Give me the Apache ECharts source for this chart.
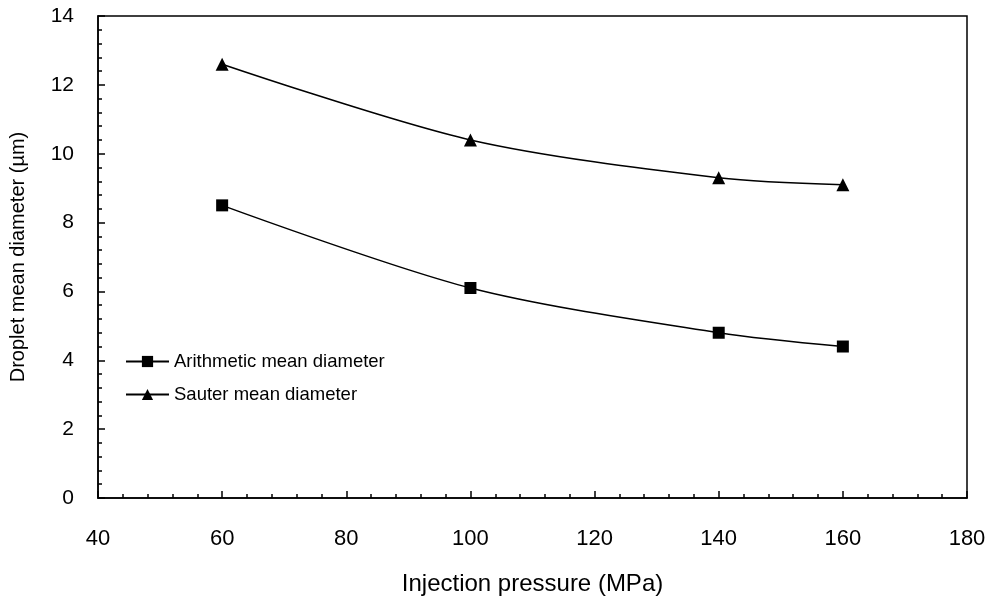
<!DOCTYPE html>
<html>
<head>
<meta charset="utf-8">
<script src="https://cdn.jsdelivr.net/npm/echarts@6/dist/echarts.min.js"></script>
<style>
  html, body { margin: 0; padding: 0; background: #fff; }
  #chart { width: 990px; height: 601px; }
</style>
</head>
<body>
<div id="chart"></div>
<script>
// injection pressure (MPa)
const pressure = [60, 100, 140, 160]
// droplet mean diameters (um)
const arithmeticMean = [8.5, 6.1, 4.8, 4.4]
const sauterMean = [12.6, 10.4, 9.3, 9.1]

const chart = echarts.init(document.getElementById('chart'))

const font = 'Liberation Sans, Arial, sans-serif'

const toPairs = (xs, ys) => xs.map((x, i) => [x, ys[i]])

const axisCommon = {
  axisLine: { show: true, lineStyle: { color: '#000', width: 1.5 } },
  axisTick: { show: true, inside: true, length: 7, lineStyle: { color: '#000', width: 1.5 } },
  minorTick: { show: true, splitNumber: 5, length: 4, lineStyle: { color: '#000', width: 1.5 } },
  splitLine: { show: false }
}

let option = {
  animation: false,
  backgroundColor: '#fff',
  grid: {
    left: 98,
    right: 23,
    top: 16,
    bottom: 103,
    show: true,
    borderColor: '#000',
    borderWidth: 1.5
  },
  legend: {
    orient: 'vertical',
    left: 120,
    top: 347,
    itemWidth: 43,
    itemHeight: 14,
    itemGap: 14,
    textStyle: { color: '#000', fontSize: 18.5, fontFamily: font },
    data: ['Arithmetic mean diameter', 'Sauter mean diameter']
  },
  xAxis: Object.assign({}, axisCommon, {
    type: 'value',
    min: 40,
    max: 180,
    interval: 20,
    name: 'Injection pressure (MPa)',
    nameLocation: 'middle',
    nameGap: 74,
    nameTextStyle: { color: '#000', fontSize: 24, fontFamily: font },
    axisLabel: { color: '#000', fontSize: 22, fontFamily: font, margin: 30 }
  }),
  yAxis: Object.assign({}, axisCommon, {
    type: 'value',
    min: 0,
    max: 14,
    interval: 2,
    name: 'Droplet mean diameter (\u00b5m)',
    nameLocation: 'middle',
    nameGap: 70,
    nameTextStyle: { color: '#000', fontSize: 20, fontFamily: font },
    axisLabel: { color: '#000', fontSize: 21, fontFamily: font, margin: 24 }
  }),
  series: [
    {
      name: 'Arithmetic mean diameter',
      type: 'line',
      smooth: 0.3,
      symbol: 'rect',
      symbolSize: 12,
      lineStyle: { color: '#000', width: 1.5 },
      itemStyle: { color: '#000' },
      data: toPairs(pressure, arithmeticMean)
    },
    {
      name: 'Sauter mean diameter',
      type: 'line',
      smooth: 0.3,
      symbol: 'triangle',
      symbolSize: 13,
      lineStyle: { color: '#000', width: 1.5 },
      itemStyle: { color: '#000' },
      data: toPairs(pressure, sauterMean)
    }
  ]
}

chart.setOption(option)
</script>
</body>
</html>
